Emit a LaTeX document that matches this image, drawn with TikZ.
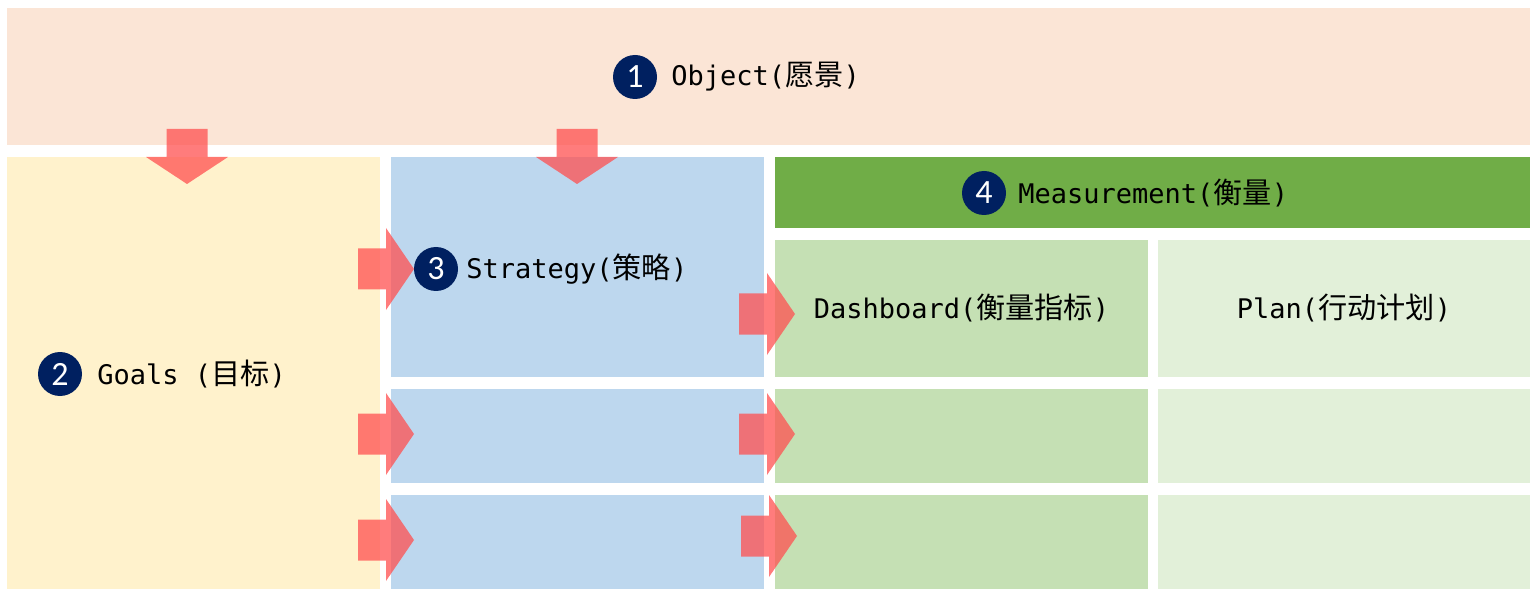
\documentclass[tikz,border=0pt]{standalone}
\usepackage{fontspec}
\setmainfont{DejaVu Sans Mono}
\newfontfamily\cjk[Scale=1.08]{Noto Sans CJK SC}
\newfontfamily\numfont{Carlito}
\usetikzlibrary{positioning}
\definecolor{objfill}{HTML}{FBE5D6}
\definecolor{goalfill}{HTML}{FFF2CC}
\definecolor{stratfill}{HTML}{BDD7EE}
\definecolor{measfill}{HTML}{70AD47}
\definecolor{dashfill}{HTML}{C5E0B4}
\definecolor{planfill}{HTML}{E2F0D9}
\definecolor{navy}{HTML}{002060}
\definecolor{arrowred}{HTML}{FF5050}
\tikzstyle{block} = [rectangle, draw=none, inner sep=0pt,
                 font=\fontsize{27}{32}\selectfont]
\tikzset{
	numdot/.style={circle, fill=navy, text=white, minimum size=44pt,
		inner sep=0pt, font=\numfont\fontsize{34}{34}\selectfont},
	boxtext/.style={inner sep=2pt, font=\fontsize{27}{32}\selectfont},
	rblock/.pic={
		\fill[arrowred, fill opacity=0.75] (-28,-20.5) -- (0,-20.5) -- (0,-41)
			-- (28,0) -- (0,41) -- (0,20.5) -- (-28,20.5) -- cycle;},
	dblock/.pic={
		\fill[arrowred, fill opacity=0.75] (-20.5,-28) -- (-20.5,0) -- (-41,0)
			-- (0,27) -- (41,0) -- (20.5,0) -- (20.5,-28) -- cycle;},
}

\begin{document}
\begin{tikzpicture}[x=1pt, y=-1pt]
\useasboundingbox (0,0) rectangle (1535,596);

% top and left boxes
\node [block, fill=objfill, minimum width=1523, minimum height=137] (object) at (768.5,76.5) {};
\node [block, fill=goalfill, minimum width=373, minimum height=432] (goals) at (193.5,373) {};

% strategy column
\node [block, fill=stratfill, minimum width=373, minimum height=220] (strat1) at (577.5,267) {};
\foreach \r/\cy in {2/436, 3/542}
	\node [block, fill=stratfill, minimum width=373, minimum height=94] (strat\r) at (577.5,\cy) {};

% measurement
\node [block, fill=measfill, minimum width=755, minimum height=71] (meas) at (1152.5,192.5) {};
\node [block, fill=dashfill, minimum width=373, minimum height=137] (dash1) at (961.5,308.5)
	{Dashboard({\cjk 衡量指标})};
\node [block, fill=planfill, minimum width=372, minimum height=137] (plan1) at (1344,308.5)
	{Plan({\cjk 行动计划})};
\foreach \r/\cy in {2/436, 3/542}{
	\node [block, fill=dashfill, minimum width=373, minimum height=94] (dash\r) at (961.5,\cy) {};
	\node [block, fill=planfill, minimum width=372, minimum height=94] (plan\r) at (1344,\cy) {};
}

% numbered labels
\node [numdot] (n1) at (635,77) {1};
\node [boxtext, right=12pt of n1] (objtext) {Object({\cjk 愿景})};
\node [numdot] (n2) at (60,374) {2};
\node [boxtext, right=13pt of n2] (goaltext) {Goals ({\cjk 目标})};
\node [numdot] (n3) at (436,269) {3};
\node [boxtext, right=6pt of n3] (strattext) {Strategy({\cjk 策略})};
\node [numdot] (n4) at (984,193) {4};
\node [boxtext, right=10pt of n4] (meastext) {Measurement({\cjk 衡量})};

% block arrows
\foreach \x in {187, 577}
	\pic at (\x,157) {dblock};
\foreach \x/\y in {386/269, 386/434, 386/540, 767/314, 767/434, 769/536}
	\pic at (\x,\y) {rblock};

\end{tikzpicture}
\end{document}
